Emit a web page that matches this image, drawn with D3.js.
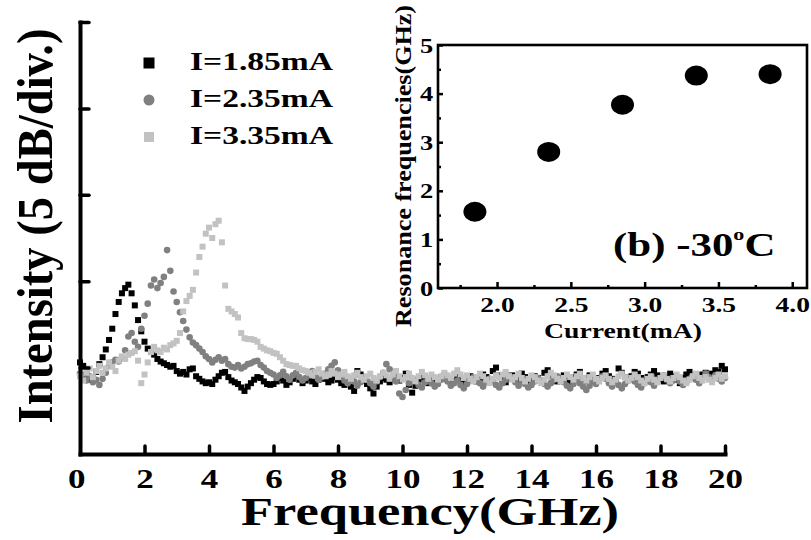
<!DOCTYPE html>
<html>
<head>
<meta charset="utf-8">
<script src="https://cdn.jsdelivr.net/npm/d3@7"></script>
<style>
  body { margin: 0; background: #fff; }
  svg { display: block; font-family: 'Liberation Serif', 'Times New Roman', serif; font-weight: bold; }
</style>
</head>
<body>
<div id="chart-area"></div>
<script>
// Spectra, intensity in divisions (5 dB/div), one value every 0.1 GHz from 0 to 20 GHz
const freqStep = 0.1;
const seriesLabels = ['I=1.85mA', 'I=2.35mA', 'I=3.35mA'];

const intensity185 = [
  1.06, 1.02, 0.92, 0.86, 0.88, 0.95, 1.04, 1.12, 1.21, 1.32,
  1.45, 1.62, 1.76, 1.86, 1.92, 1.96, 1.86, 1.72, 1.55, 1.42,
  1.30, 1.22, 1.18, 1.15, 1.10, 1.07, 1.05, 1.03, 1.01, 1.02,
  0.96, 0.93, 0.95, 0.92, 0.98, 0.99, 0.90, 0.87, 0.84, 0.82,
  0.83, 0.81, 0.86, 0.90, 0.94, 0.95, 0.89, 0.85, 0.83, 0.81,
  0.77, 0.73, 0.78, 0.82, 0.86, 0.89, 0.88, 0.84, 0.81, 0.80,
  0.81, 0.84, 0.88, 0.85, 0.80, 0.83, 0.87, 0.90, 0.86, 0.82,
  0.85, 0.88, 0.84, 0.81, 0.86, 0.90, 0.87, 0.83, 0.85, 0.89,
  0.86, 0.82, 0.80, 0.84, 0.78, 0.73, 0.96, 0.92, 0.85, 0.81,
  0.76, 0.70, 0.78, 0.84, 0.88, 0.86, 0.83, 0.87, 0.90, 0.85,
  0.88, 0.93, 0.80, 0.71, 0.79, 0.86, 0.89, 0.84, 0.82, 0.87,
  0.85, 0.83, 0.88, 0.91, 0.86, 0.82, 0.84, 0.89, 0.87, 0.83,
  0.86, 0.90, 0.87, 0.84, 0.88, 0.92, 0.89, 0.86, 0.96, 1.00,
  0.91, 0.86, 0.83, 0.88, 0.91, 0.87, 0.85, 0.93, 0.89, 0.84,
  0.86, 0.90, 0.88, 0.85, 0.94, 0.97, 0.90, 0.86, 0.84, 0.88,
  0.91, 0.87, 0.83, 0.89, 0.92, 0.95, 0.88, 0.85, 0.91, 0.87,
  0.84, 0.88, 0.93, 0.96, 0.90, 0.87, 0.85, 0.99, 0.94, 0.89,
  0.86, 0.90, 0.95, 0.93, 0.88, 0.85, 0.89, 0.92, 0.96, 0.91,
  0.87, 0.84, 0.88, 0.93, 0.90, 0.86, 0.82, 0.88, 0.92, 0.95,
  0.90, 0.87, 0.85, 0.92, 0.94, 0.89, 0.93, 0.97, 0.95, 1.02,
  0.98
];

const intensity235 = [
  0.93, 0.88, 0.85, 0.90, 0.83, 0.86, 0.80, 0.87, 0.94, 1.02,
  1.06, 1.09, 1.07, 1.12, 1.20, 1.36, 1.40, 1.30, 1.24, 1.45,
  1.60, 1.74, 1.95, 2.02, 1.92, 1.98, 2.05, 2.36, 2.12, 1.88,
  1.76, 1.64, 1.54, 1.44, 1.35, 1.29, 1.26, 1.22, 1.18, 1.13,
  1.10, 1.06, 1.09, 1.12, 1.08, 1.10, 1.04, 1.01, 1.00, 1.03,
  0.99, 1.01, 1.04, 1.05, 1.07, 1.08, 1.03, 1.00, 0.96, 0.94,
  0.92, 0.88, 0.91, 0.95, 0.90, 0.86, 0.91, 0.94, 0.89, 0.85,
  0.88, 0.92, 0.96, 0.90, 0.86, 0.89, 0.93, 0.98, 1.02, 1.06,
  0.97, 0.90, 0.85, 0.82, 0.87, 0.84, 0.79, 0.83, 0.88, 0.86,
  0.82, 0.78, 0.84, 0.89, 0.94, 1.04, 0.98, 0.90, 0.84, 0.70,
  0.66, 0.74, 0.82, 0.88, 0.85, 0.80, 0.77, 0.83, 0.87, 0.82,
  0.78, 0.81, 0.86, 0.90, 0.84, 0.79, 0.82, 0.85, 0.80, 0.76,
  0.81, 0.85, 0.89, 0.86, 0.82, 0.78, 0.83, 0.87, 0.84, 0.80,
  0.77, 0.82, 0.86, 0.91, 0.88, 0.83, 0.79, 0.84, 0.81, 0.77,
  0.80, 0.84, 0.88, 0.85, 0.81, 0.78, 0.82, 0.86, 0.90, 0.87,
  0.83, 0.79, 0.76, 0.81, 0.85, 0.82, 0.78, 0.74, 0.79, 0.84,
  0.81, 0.86, 0.90, 0.87, 0.82, 0.78, 0.83, 0.80, 0.76, 0.81,
  0.85, 0.88, 0.84, 0.80, 0.77, 0.82, 0.86, 0.83, 0.79, 0.84,
  0.88, 0.91, 0.86, 0.82, 0.85, 0.89, 0.84, 0.80, 0.83, 0.87,
  0.90, 0.86, 0.82, 0.88, 0.93, 0.89, 0.85, 0.91, 0.87, 0.84,
  0.88
];

const intensity335 = [
  0.90, 0.85, 0.94, 0.99, 0.89, 0.96, 1.02, 0.94, 0.99, 1.06,
  1.01, 0.96, 1.08, 1.13, 1.10, 1.15, 1.17, 1.19, 1.08, 0.82,
  0.92, 1.06, 1.18, 1.24, 1.20, 1.18, 1.23, 1.21, 1.26, 1.28,
  1.31, 1.40, 1.65, 1.77, 1.83, 1.90, 2.10, 2.28, 2.40, 2.55,
  2.62, 2.50, 2.66, 2.70, 2.45, 1.95, 1.68, 1.65, 1.62, 1.58,
  1.40, 1.34, 1.33, 1.33, 1.32, 1.30, 1.24, 1.22, 1.20, 1.19,
  1.17, 1.16, 1.12, 1.08, 1.04, 1.03, 1.02, 1.02, 0.99, 0.97,
  0.96, 0.94, 0.91, 0.95, 0.98, 0.93, 0.90, 0.92, 0.96, 0.93,
  0.89, 0.92, 0.95, 0.90, 0.87, 0.91, 0.94, 0.89, 0.86, 0.90,
  0.93, 0.88, 0.85, 0.90, 0.94, 0.91, 0.87, 0.92, 0.96, 0.90,
  0.86, 0.89, 0.93, 0.88, 0.84, 0.90, 0.95, 0.91, 0.87, 0.92,
  0.89, 0.86, 0.90, 0.94, 0.91, 0.88, 0.93, 0.97, 0.92, 0.88,
  0.91, 0.87, 0.84, 0.89, 0.93, 0.90, 0.86, 0.82, 0.87, 0.91,
  0.88, 0.92, 0.95, 0.90, 0.86, 0.89, 0.93, 0.88, 0.84, 0.87,
  0.91, 0.89, 0.85, 0.82, 0.86, 0.90, 0.94, 0.91, 0.87, 0.84,
  0.88, 0.92, 0.89, 0.86, 0.90, 0.93, 0.88, 0.85, 0.89, 0.92,
  0.87, 0.84, 0.88, 0.91, 0.87, 0.83, 0.86, 0.90, 0.93, 0.89,
  0.85, 0.88, 0.92, 0.89, 0.85, 0.82, 0.87, 0.90, 0.86, 0.83,
  0.88, 0.91, 0.87, 0.84, 0.88, 0.92, 0.89, 0.85, 0.82, 0.86,
  0.90, 0.93, 0.88, 0.85, 0.89, 0.86, 0.83, 0.88, 0.92, 0.87,
  0.90
];

const freqTicks = [0, 2, 4, 6, 8, 10, 12, 14, 16, 18, 20];
const intensityTicks = [1, 2, 3, 4, 5];

// Inset (b): resonance frequency vs current at -30 C
const currents = [1.85, 2.35, 2.85, 3.35, 3.85];
const resonanceFreqs = [1.57, 2.80, 3.77, 4.37, 4.40];
const currentTicks = [2.0, 2.5, 3.0, 3.5, 4.0];
const currentMinorTicks = [1.75, 2.25, 2.75, 3.25, 3.75];
const resonanceTicks = [0, 1, 2, 3, 4, 5];
const resonanceMinorTicks = [0.5, 1.5, 2.5, 3.5, 4.5];


const width = 811;
const height = 540;
const serif = "'Liberation Serif', 'Times New Roman', serif";

const svg = d3.select('#chart-area')
    .append('svg')
    .attr('width', width)
    .attr('height', height);

// ---------- main spectrum plot ----------
const x = d3.scaleLinear().domain([0, 20]).range([80, 725]);
const y = d3.scaleLinear().domain([0, 5]).range([454, 22]);

const spectra = [
    { label: seriesLabels[0], values: intensity185, color: '#000000', shape: 'square' },
    { label: seriesLabels[1], values: intensity235, color: '#808080', shape: 'circle' },
    { label: seriesLabels[2], values: intensity335, color: '#c2c2c2', shape: 'square' }
];

spectra.forEach((s) => {
    const pts = s.values.map((v, i) => ({ f: i * freqStep, v }));
    const g = svg.append('g').attr('fill', s.color);
    if (s.shape === 'square') {
        g.selectAll('rect').data(pts).enter().append('rect')
            .attr('x', (d) => x(d.f) - 3)
            .attr('y', (d) => y(d.v) - 3)
            .attr('width', 6)
            .attr('height', 6);
    } else {
        g.selectAll('circle').data(pts).enter().append('circle')
            .attr('cx', (d) => x(d.f))
            .attr('cy', (d) => y(d.v))
            .attr('r', 3.3);
    }
});

// Axes
const xAxis = d3.axisBottom(x)
    .tickValues(freqTicks)
    .tickSizeInner(-8)
    .tickSizeOuter(0)
    .tickPadding(14);
const gx = svg.append('g')
    .attr('transform', `translate(0, ${y(0)})`)
    .call(xAxis)
    .attr('font-family', serif)
    .attr('font-size', 28)
    .attr('font-weight', 'bold');
gx.select('.domain').attr('stroke-width', 4).attr('stroke-linecap', 'square');
gx.selectAll('.tick line').attr('stroke-width', 3.5).attr('stroke-linecap', 'round');
gx.selectAll('.tick').filter((d) => d === 0).select('line').remove();
gx.selectAll('.tick text').attr('fill', '#000').attr('transform', 'scale(1.25,1)');
gx.selectAll('.tick').filter((d) => d === 0).select('text').attr('x', -3);

const yAxis = d3.axisLeft(y)
    .tickValues(intensityTicks)
    .tickSizeInner(-9)
    .tickSizeOuter(0)
    .tickFormat('');
const gy = svg.append('g')
    .attr('transform', `translate(${x(0)}, 0)`)
    .call(yAxis);
gy.select('.domain').attr('stroke-width', 4).attr('stroke-linecap', 'square');
gy.selectAll('.tick line').attr('stroke-width', 3.5).attr('stroke-linecap', 'round');

// Axis titles
svg.append('text')
    .attr('transform', 'translate(52, 226) rotate(-90) scale(1, 1.12)')
    .attr('text-anchor', 'middle')
    .attr('font-size', 46)
    .attr('textLength', 395)
    .attr('lengthAdjust', 'spacingAndGlyphs')
    .text('Intensity (5 dB/div.)');

svg.append('text')
    .attr('x', 430)
    .attr('y', 525)
    .attr('text-anchor', 'middle')
    .attr('font-size', 40)
    .attr('textLength', 378)
    .attr('lengthAdjust', 'spacingAndGlyphs')
    .text('Frequency(GHz)');

// Legend
const legend = svg.append('g').attr('transform', 'translate(149, 63)');
spectra.forEach((s, i) => {
    const row = legend.append('g').attr('transform', `translate(0, ${i * 37})`);
    if (s.shape === 'square') {
        const size = i === 0 ? 11 : 10;
        row.append('rect')
            .attr('x', -size / 2).attr('y', -size / 2)
            .attr('width', size).attr('height', size)
            .attr('fill', s.color);
    } else {
        row.append('circle').attr('r', 5.5).attr('fill', s.color);
    }
    row.append('text')
        .attr('x', 41)
        .attr('y', 7)
        .attr('font-size', 26)
        .attr('textLength', 143)
        .attr('lengthAdjust', 'spacingAndGlyphs')
        .text(s.label);
});

// ---------- inset (b) ----------
const xi = d3.scaleLinear().domain([1.6, 4.1]).range([438, 807]);
const yi = d3.scaleLinear().domain([0, 5]).range([288, 45]);

svg.append('rect')
    .attr('x', xi(1.6)).attr('y', yi(5))
    .attr('width', xi(4.1) - xi(1.6))
    .attr('height', yi(0) - yi(5))
    .attr('fill', 'none')
    .attr('stroke', '#000')
    .attr('stroke-width', 2.6);

const gxi = svg.append('g')
    .attr('transform', `translate(0, ${yi(0)})`)
    .call(d3.axisBottom(xi).tickValues(currentTicks).tickSizeInner(-6).tickSizeOuter(0)
        .tickPadding(8).tickFormat(d3.format('.1f')))
    .attr('font-family', serif)
    .attr('font-size', 22)
    .attr('font-weight', 'bold');
gxi.select('.domain').remove();
gxi.selectAll('.tick line').attr('stroke-width', 2.5);
gxi.selectAll('.tick text').attr('fill', '#000').attr('transform', 'scale(1.25,1)');

const gxiMinor = svg.append('g')
    .attr('transform', `translate(0, ${yi(0)})`)
    .call(d3.axisBottom(xi).tickValues(currentMinorTicks).tickSizeInner(-3).tickSizeOuter(0).tickFormat(''));
gxiMinor.select('.domain').remove();
gxiMinor.selectAll('.tick line').attr('stroke-width', 2.5);

const gyi = svg.append('g')
    .attr('transform', `translate(${xi(1.6)}, 0)`)
    .call(d3.axisLeft(yi).tickValues(resonanceTicks).tickSizeInner(-5).tickSizeOuter(0)
        .tickPadding(4).tickFormat(d3.format('d')))
    .attr('font-family', serif)
    .attr('font-size', 22)
    .attr('font-weight', 'bold');
gyi.select('.domain').remove();
gyi.selectAll('.tick line').attr('stroke-width', 2.5);
gyi.selectAll('.tick text').attr('fill', '#000').attr('transform', 'scale(1.2,1)');

const gyiMinor = svg.append('g')
    .attr('transform', `translate(${xi(1.6)}, 0)`)
    .call(d3.axisLeft(yi).tickValues(resonanceMinorTicks).tickSizeInner(-3).tickSizeOuter(0).tickFormat(''));
gyiMinor.select('.domain').remove();
gyiMinor.selectAll('.tick line').attr('stroke-width', 2.5);

svg.append('g')
    .selectAll('ellipse')
    .data(currents.map((c, i) => ({ c, f: resonanceFreqs[i] })))
    .enter()
    .append('ellipse')
    .attr('cx', (d) => xi(d.c))
    .attr('cy', (d) => yi(d.f))
    .attr('rx', 11.5)
    .attr('ry', 10)
    .attr('fill', '#000');

svg.append('text')
    .attr('x', 623)
    .attr('y', 338)
    .attr('text-anchor', 'middle')
    .attr('font-size', 22)
    .attr('textLength', 158)
    .attr('lengthAdjust', 'spacingAndGlyphs')
    .text('Current(mA)');

svg.append('text')
    .attr('transform', 'translate(411, 166) rotate(-90)')
    .attr('text-anchor', 'middle')
    .attr('font-size', 23)
    .attr('textLength', 322)
    .attr('lengthAdjust', 'spacingAndGlyphs')
    .text('Resonance frequencies(GHz)');

// "(b) -30 oC" label, stretched like the rest of the figure text
const tag = svg.append('text')
    .attr('transform', 'translate(613, 256) scale(1.3, 1)')
    .attr('font-size', 33);
tag.append('tspan').text('(b) -30');
tag.append('tspan').attr('font-size', 17).attr('dy', -16).text('o');
tag.append('tspan').attr('dy', 16).text('C');
</script>
</body>
</html>
